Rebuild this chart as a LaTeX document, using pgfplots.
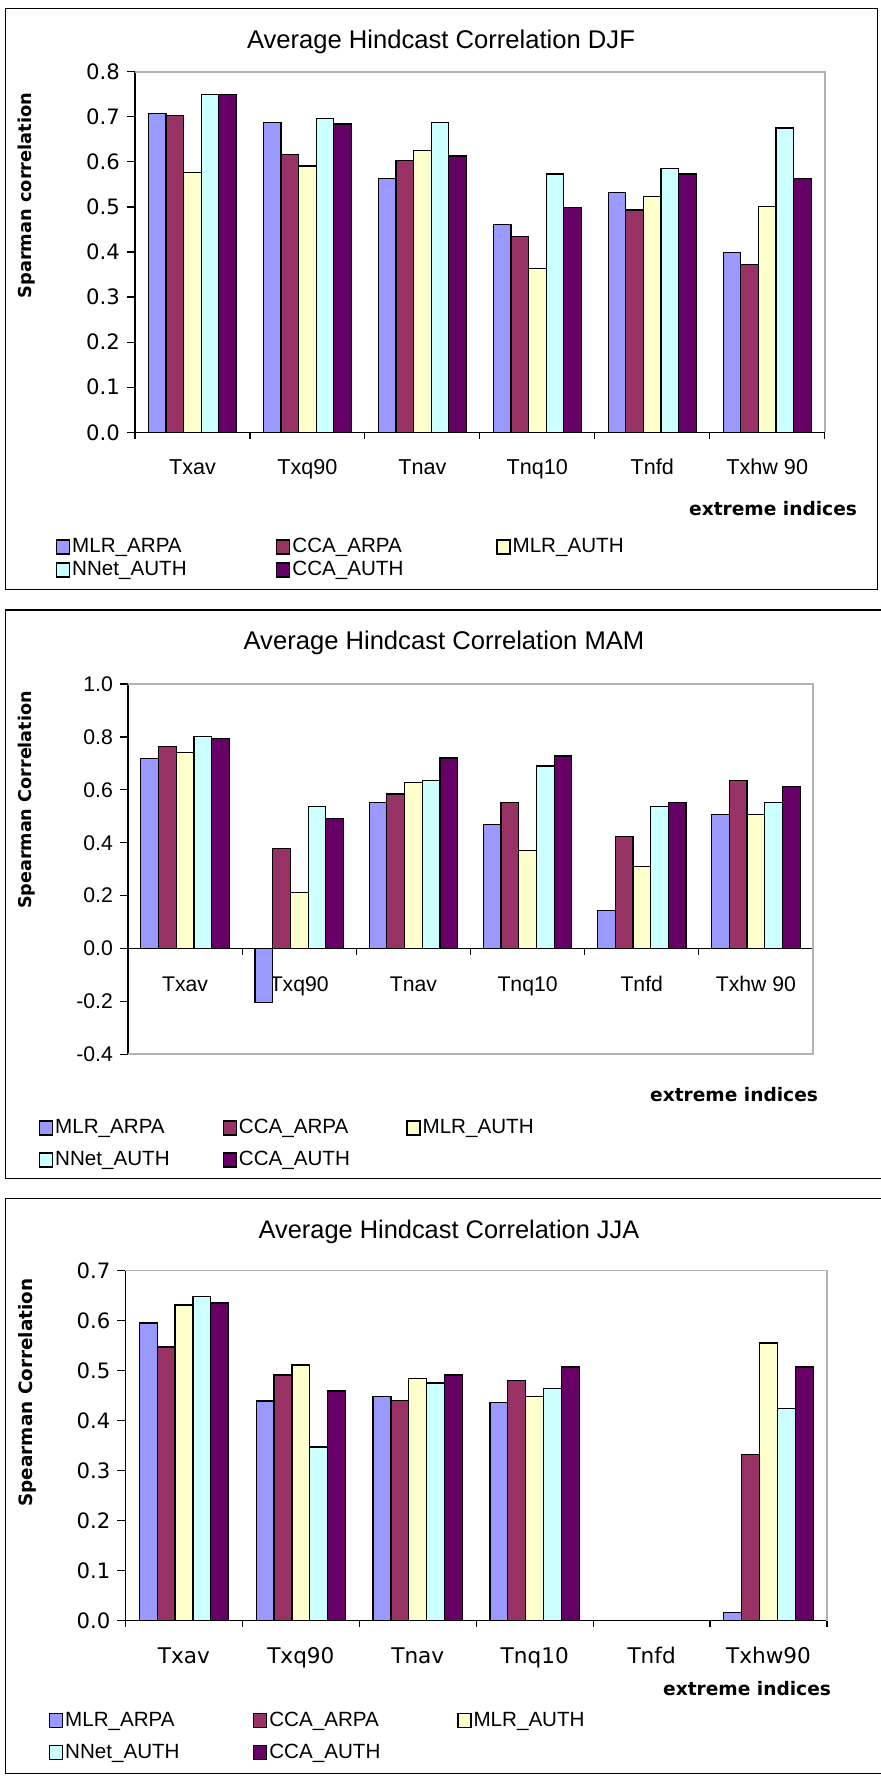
\documentclass[border=0pt]{standalone}
\usepackage{pgfplots}
\pgfplotsset{compat=1.18}
\usepackage{pgfplotstable}
\usepackage{fontspec}
\setmainfont{Liberation Sans}
\newfontfamily\dejavu{DejaVu Sans}

\definecolor{cA}{HTML}{9999FF}
\definecolor{cB}{HTML}{993366}
\definecolor{cC}{HTML}{FFFFCC}
\definecolor{cD}{HTML}{CCFFFF}
\definecolor{cE}{HTML}{660066}

% DJF
\pgfplotstableread{
x a b c d e
0 0.708 0.702 0.577 0.750 0.750
1 0.688 0.617 0.591 0.697 0.684
2 0.563 0.603 0.626 0.688 0.613
3 0.461 0.435 0.364 0.573 0.498
4 0.532 0.493 0.524 0.586 0.573
5 0.399 0.373 0.501 0.675 0.563
}\djf
% MAM
\pgfplotstableread{
x a b c d e
0 0.718 0.764 0.740 0.802 0.795
1 -0.203 0.379 0.211 0.536 0.492
2 0.553 0.584 0.628 0.635 0.720
3 0.470 0.553 0.370 0.690 0.728
4 0.143 0.423 0.309 0.536 0.551
5 0.506 0.635 0.506 0.553 0.613
}\mam
% JJA (no values for Tnfd)
\pgfplotstableread{
x a b c d e
0 0.595 0.547 0.631 0.648 0.635
1 0.439 0.491 0.511 0.347 0.459
2 0.448 0.440 0.484 0.475 0.491
3 0.436 0.480 0.448 0.464 0.507
5 0.016 0.332 0.555 0.424 0.507
}\jja

\pgfplotsset{
  barlegend/.style={legend image code/.code={\draw[##1,/tikz/.cd,line width=0.6pt,draw=black] (0pt,-3.5pt) rectangle (6.5pt,3.5pt);}},
  panel/.style={
    scale only axis, anchor=north west,
    ybar=0pt, xmin=-0.5, xmax=5.5, enlargelimits=false, clip=false,
    axis x line=middle, axis y line=left,
    axis line style={-, black, line width=0.6pt},
    every inner x axis line/.append style={-},
    every outer x axis line/.append style={-},
    every inner y axis line/.append style={-},
    every outer y axis line/.append style={-},
    hide obscured x ticks=false, hide obscured y ticks=false,
    tick align=outside,
    xtick={0,1,2,3,4,5},
    every major x tick/.append style={draw=none},
    minor xtick={-0.5,0.5,1.5,2.5,3.5,4.5,5.5},
    minor tick length=3.3pt, major tick length=4pt,
    tick style={black, line width=0.6pt},
    y tick label style={/pgf/number format/fixed, /pgf/number format/fixed zerofill, /pgf/number format/precision=1, /pgf/number format/assume math mode=true},
    every axis plot/.append style={draw=black, line width=0.6pt},
    every axis plot post/.append style={barlegend},
    legend columns=3,
    legend cell align=left,
    legend style={draw=none, fill=none, inner sep=0pt, outer sep=0pt, anchor=north west,
      column sep=0pt, font=\fontsize{10.3}{12}\selectfont,
      nodes={inner sep=0pt, text height=7.5pt, text depth=2pt},
      /tikz/every odd column/.append style={column sep=1pt}},
  },
}

\begin{document}
\begin{tikzpicture}
\useasboundingbox (0,0) rectangle (440pt,-888pt);

% ---------------- Panel 1: DJF ----------------
\draw[black, line width=0.75pt] (2.8pt,-4.15pt) rectangle (438.85pt,-294.65pt);
\node[font=\fontsize{12.8}{15}\selectfont] at (220.5pt,-20.85pt) {Average Hindcast Correlation DJF};
\node[anchor=east, font=\dejavu\bfseries\fontsize{9.3}{11}\selectfont] at (432pt,-254.15pt) {extreme indices};
\begin{axis}[panel,
  at={(67.5pt,-35.85pt)}, width=344.85pt, height=180.3pt,
  bar width=8.8pt,
  ymin=0, ymax=0.8, ytick={0,0.1,0.2,0.3,0.4,0.5,0.6,0.7,0.8},
  xticklabels={Txav,Txq90,Tnav,Tnq10,Tnfd,Txhw 90},
  xticklabel style={anchor=base, yshift=-17.3pt, font=\fontsize{10.8}{12}\selectfont},
  yticklabel style={font=\dejavu\fontsize{10.6}{12}\selectfont},
  ylabel={Sparman correlation},
  ylabel style={at={(axis description cs:-0.1566,0.6567)}, anchor=center, font=\dejavu\bfseries\fontsize{8.9}{10}\selectfont},
  legend style={at={(axis description cs:-0.1145,-0.2917)}, row sep=2pt},
]
\draw[gray!60, line width=0.9pt] (rel axis cs:0,1) -- (rel axis cs:1,1) -- (rel axis cs:1,0);
\addplot[fill=cA] table[x=x,y=a] {\djf};
\addplot[fill=cB] table[x=x,y=b] {\djf};
\addplot[fill=cC] table[x=x,y=c] {\djf};
\addplot[fill=cD] table[x=x,y=d] {\djf};
\addplot[fill=cE] table[x=x,y=e] {\djf};
\addlegendentry{\makebox[102pt][l]{MLR\_ARPA}}
\addlegendentry{\makebox[102pt][l]{CCA\_ARPA}}
\addlegendentry{\makebox[102pt][l]{MLR\_AUTH}}
\addlegendentry{\makebox[102pt][l]{NNet\_AUTH}}
\addlegendentry{\makebox[102pt][l]{CCA\_AUTH}}
\end{axis}

% ---------------- Panel 2: MAM ----------------
\draw[black, line width=0.75pt] (2.8pt,-305pt) rectangle (441pt,-589.15pt);
\node[font=\fontsize{12.8}{15}\selectfont] at (222pt,-321.65pt) {Average Hindcast Correlation MAM};
\node[anchor=east, font=\dejavu\bfseries\fontsize{9.3}{11}\selectfont] at (412.5pt,-547.5pt) {extreme indices};
\begin{axis}[panel,
  at={(64pt,-342pt)}, width=342.5pt, height=185.15pt,
  bar width=8.85pt,
  ymin=-0.4, ymax=1.0, ytick={-0.4,-0.2,0,0.2,0.4,0.6,0.8,1.0},
  xticklabels={Txav,Txq90,Tnav,Tnq10,Tnfd,Txhw 90},
  xticklabel style={anchor=base, yshift=-17.6pt, font=\fontsize{10.6}{12}\selectfont},
  yticklabel style={font=\fontsize{10.6}{12}\selectfont},
  ylabel={Spearman Correlation},
  ylabel style={at={(axis description cs:-0.1474,0.6867)}, anchor=center, font=\dejavu\bfseries\fontsize{8.8}{10}\selectfont},
  legend style={at={(axis description cs:-0.1299,-0.1734)}, row sep=6.5pt},
]
\draw[gray!60, line width=0.9pt] (rel axis cs:0,1) -- (rel axis cs:1,1) -- (rel axis cs:1,0) -- (rel axis cs:0,0);
\addplot[fill=cA] table[x=x,y=a] {\mam};
\addplot[fill=cB] table[x=x,y=b] {\mam};
\addplot[fill=cC] table[x=x,y=c] {\mam};
\addplot[fill=cD] table[x=x,y=d] {\mam};
\addplot[fill=cE] table[x=x,y=e] {\mam};
\addlegendentry{\makebox[83.75pt][l]{MLR\_ARPA}}
\addlegendentry{\makebox[83.75pt][l]{CCA\_ARPA}}
\addlegendentry{\makebox[83.75pt][l]{MLR\_AUTH}}
\addlegendentry{\makebox[83.75pt][l]{NNet\_AUTH}}
\addlegendentry{\makebox[83.75pt][l]{CCA\_AUTH}}
\end{axis}

% ---------------- Panel 3: JJA ----------------
\draw[black, line width=0.75pt] (2.8pt,-599.15pt) rectangle (441pt,-886.65pt);
\node[font=\fontsize{12.7}{15}\selectfont] at (224.5pt,-616pt) {Average Hindcast Correlation JJA};
\node[anchor=east, font=\dejavu\bfseries\fontsize{9.3}{11}\selectfont] at (419pt,-844.15pt) {extreme indices};
\begin{axis}[panel,
  at={(62.75pt,-635.25pt)}, width=350.75pt, height=175pt,
  bar width=8.95pt,
  ymin=0, ymax=0.7, ytick={0,0.1,0.2,0.3,0.4,0.5,0.6,0.7},
  xticklabels={Txav,Txq90,Tnav,Tnq10,Tnfd,Txhw90},
  xticklabel style={anchor=base, yshift=-17.5pt, font=\dejavu\fontsize{10.8}{12}\selectfont},
  yticklabel style={font=\dejavu\fontsize{10.6}{12}\selectfont},
  ylabel={Spearman Correlation},
  ylabel style={at={(axis description cs:-0.1404,0.6514)}, anchor=center, font=\dejavu\bfseries\fontsize{9.2}{10}\selectfont},
  legend style={at={(axis description cs:-0.1091,-0.2591)}, row sep=6.5pt},
]
\draw[gray!60, line width=0.9pt] (rel axis cs:0,1) -- (rel axis cs:1,1) -- (rel axis cs:1,0);
\addplot[fill=cA] table[x=x,y=a] {\jja};
\addplot[fill=cB] table[x=x,y=b] {\jja};
\addplot[fill=cC] table[x=x,y=c] {\jja};
\addplot[fill=cD] table[x=x,y=d] {\jja};
\addplot[fill=cE] table[x=x,y=e] {\jja};
\addlegendentry{\makebox[94pt][l]{MLR\_ARPA}}
\addlegendentry{\makebox[94pt][l]{CCA\_ARPA}}
\addlegendentry{\makebox[94pt][l]{MLR\_AUTH}}
\addlegendentry{\makebox[94pt][l]{NNet\_AUTH}}
\addlegendentry{\makebox[94pt][l]{CCA\_AUTH}}
\end{axis}
\end{tikzpicture}
\end{document}
